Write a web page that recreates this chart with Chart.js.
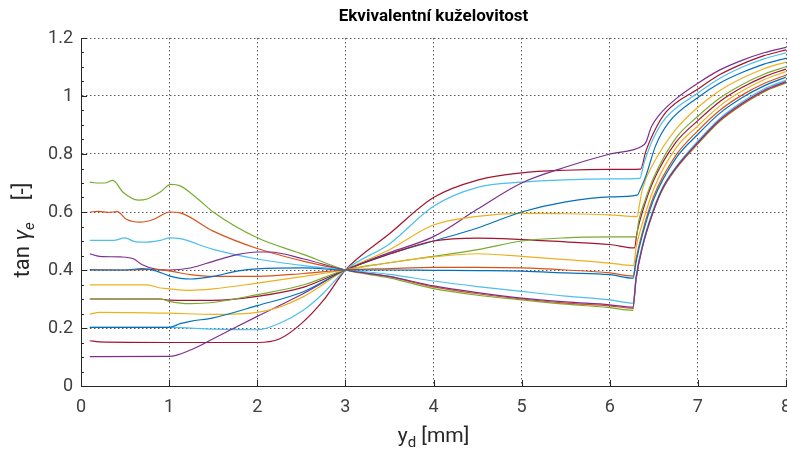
<!DOCTYPE html>
<html>
<head>
<meta charset="utf-8">
<script src="https://cdn.jsdelivr.net/npm/chart.js@4.4.1/dist/chart.umd.min.js"></script>
<style>
  html, body { margin: 0; padding: 0; background: #fff; }
  #wrap { width: 787px; height: 450px; }
</style>
</head>
<body>
<div id="wrap"><canvas id="chart" width="787" height="450"></canvas></div>
<script>
// tick labels
const xTicks = [0, 1, 2, 3, 4, 5, 6, 7, 8];
const yTicks = [0, 0.2, 0.4, 0.6, 0.8, 1, 1.2];

// series (x = y_d [mm], y = tan gamma_e)
const s01x = [0.1, 0.5, 0.7, 0.85, 1, 1.24, 1.5, 1.77, 2, 2.53, 3, 3.5, 4, 4.5, 5, 5.5, 6, 6.265, 6.3, 6.37, 6.5, 6.75, 7, 7.25, 7.5, 7.75, 8];
const s01y = [0.4, 0.4, 0.405, 0.397, 0.38, 0.369, 0.378, 0.396, 0.404, 0.407, 0.4, 0.4, 0.399, 0.398, 0.396, 0.39, 0.384, 0.372, 0.43, 0.52, 0.645, 0.785, 0.868, 0.941, 0.994, 1.035, 1.065];

const s02x = [0.1, 0.5, 0.8, 1, 1.24, 1.5, 2, 2.53, 3, 3.5, 4, 4.5, 5, 5.5, 6, 6.265, 6.3, 6.37, 6.5, 6.75, 7, 7.25, 7.5, 7.75, 8];
const s02y = [0.401, 0.4, 0.402, 0.397, 0.384, 0.378, 0.378, 0.388, 0.4, 0.405, 0.409, 0.409, 0.407, 0.4, 0.39, 0.379, 0.44, 0.53, 0.655, 0.795, 0.88, 0.951, 1.003, 1.043, 1.072];

const s03x = [0.1, 0.75, 0.9, 1, 1.24, 1.5, 2, 2.53, 3, 3.5, 4, 4.5, 5, 5.5, 6, 6.27, 6.3, 6.37, 6.5, 6.75, 7, 7.25, 7.5, 7.75, 8];
const s03y = [0.349, 0.349, 0.338, 0.335, 0.33, 0.335, 0.355, 0.378, 0.4, 0.425, 0.445, 0.456, 0.447, 0.436, 0.424, 0.415, 0.48, 0.56, 0.68, 0.82, 0.897, 0.966, 1.017, 1.056, 1.084];

const s04x = [0.1, 0.21, 0.45, 0.6, 0.69, 0.86, 1, 1.24, 1.5, 1.77, 2, 2.14, 2.53, 3, 3.5, 4, 4.5, 5, 5.5, 6, 6.262, 6.3, 6.37, 6.49, 6.6, 6.75, 7, 7.25, 7.5, 7.75, 8];
const s04y = [0.456, 0.447, 0.445, 0.438, 0.419, 0.402, 0.4, 0.407, 0.43, 0.453, 0.462, 0.462, 0.438, 0.4, 0.378, 0.345, 0.322, 0.303, 0.29, 0.28, 0.272, 0.375, 0.48, 0.6, 0.682, 0.752, 0.84, 0.918, 0.974, 1.019, 1.05];

const s05x = [0.1, 0.9, 1, 1.125, 1.24, 1.5, 2, 2.53, 3, 3.5, 4, 4.5, 5, 5.5, 6, 6.3, 6.33, 6.4, 6.5, 6.75, 7, 7.25, 7.5, 7.75, 8];
const s05y = [0.3, 0.3, 0.292, 0.286, 0.284, 0.288, 0.315, 0.349, 0.4, 0.425, 0.447, 0.47, 0.5, 0.511, 0.514, 0.514, 0.57, 0.64, 0.72, 0.855, 0.93, 0.993, 1.039, 1.075, 1.101];

const s06x = [0.1, 0.37, 0.5, 0.6, 0.75, 0.9, 1.01, 1.125, 1.5, 2, 2.53, 3, 3.5, 4, 4.5, 5, 5.5, 6, 6.265, 6.3, 6.37, 6.49, 6.6, 6.75, 7, 7.25, 7.5, 7.75, 8];
const s06y = [0.502, 0.502, 0.511, 0.499, 0.496, 0.502, 0.511, 0.508, 0.471, 0.438, 0.415, 0.4, 0.385, 0.362, 0.343, 0.326, 0.31, 0.297, 0.286, 0.38, 0.485, 0.605, 0.685, 0.755, 0.845, 0.923, 0.979, 1.024, 1.055];

const s07x = [0.1, 0.9, 1, 1.5, 2, 2.53, 3, 3.5, 4, 4.5, 5, 5.5, 6, 6.28, 6.31, 6.37, 6.5, 6.75, 7, 7.25, 7.5, 7.75, 8];
const s07y = [0.3, 0.3, 0.296, 0.295, 0.309, 0.341, 0.4, 0.455, 0.5, 0.51, 0.505, 0.497, 0.488, 0.476, 0.53, 0.6, 0.71, 0.84, 0.915, 0.981, 1.029, 1.066, 1.093];

const s08x = [0.1, 1, 1.125, 1.24, 1.5, 2, 2.53, 3, 3.5, 4, 4.5, 5, 5.5, 6, 6.31, 6.35, 6.41, 6.52, 6.67, 7, 7.25, 7.5, 7.75, 8];
const s08y = [0.202, 0.202, 0.215, 0.223, 0.235, 0.277, 0.326, 0.4, 0.455, 0.5, 0.545, 0.6, 0.635, 0.652, 0.658, 0.68, 0.724, 0.828, 0.909, 0.995, 1.045, 1.081, 1.11, 1.13];

const s09x = [0.1, 0.2, 0.3, 0.41, 0.52, 0.67, 0.82, 1.01, 1.125, 1.5, 2, 2.53, 3, 3.5, 4, 4.5, 5, 5.5, 6, 6.262, 6.3, 6.37, 6.49, 6.6, 6.75, 7, 7.25, 7.5, 7.75, 8];
const s09y = [0.6, 0.602, 0.599, 0.601, 0.574, 0.565, 0.574, 0.6, 0.597, 0.534, 0.474, 0.43, 0.4, 0.377, 0.342, 0.318, 0.3, 0.286, 0.276, 0.268, 0.372, 0.479, 0.598, 0.68, 0.75, 0.837, 0.915, 0.971, 1.016, 1.047];

const s10x = [0.1, 0.21, 1, 1.5, 2, 2.25, 2.53, 3, 3.5, 4, 4.5, 5, 5.5, 6, 6.31, 6.34, 6.37, 6.5, 6.75, 7, 7.25, 7.5, 7.75, 8];
const s10y = [0.248, 0.254, 0.251, 0.247, 0.254, 0.272, 0.309, 0.4, 0.47, 0.555, 0.585, 0.595, 0.594, 0.59, 0.584, 0.63, 0.678, 0.77, 0.885, 0.961, 1.019, 1.061, 1.094, 1.117];

const s11x = [0.1, 1, 1.25, 1.5, 2, 2.53, 3, 3.5, 4, 4.5, 5, 5.5, 6, 6.36, 6.41, 6.47, 6.56, 6.75, 7, 7.25, 7.5, 7.75, 8];
const s11y = [0.101, 0.102, 0.125, 0.163, 0.24, 0.32, 0.4, 0.46, 0.515, 0.61, 0.7, 0.755, 0.8, 0.826, 0.84, 0.892, 0.934, 0.99, 1.044, 1.09, 1.123, 1.149, 1.168];

const s12x = [0.1, 0.2, 0.27, 0.36, 0.48, 0.65, 0.75, 0.9, 1.02, 1.125, 1.33, 1.5, 2, 2.53, 3, 3.5, 4, 4.5, 5, 5.5, 6, 6.26, 6.3, 6.37, 6.49, 6.6, 6.75, 7, 7.25, 7.5, 7.75, 8];
const s12y = [0.703, 0.7, 0.7, 0.709, 0.667, 0.641, 0.645, 0.669, 0.695, 0.69, 0.644, 0.6, 0.511, 0.453, 0.4, 0.373, 0.336, 0.313, 0.297, 0.282, 0.27, 0.261, 0.37, 0.477, 0.597, 0.678, 0.748, 0.835, 0.913, 0.969, 1.014, 1.045];

const s13x = [0.1, 1, 1.5, 2, 2.26, 2.53, 2.75, 3, 3.5, 4, 4.5, 5, 5.5, 6, 6.34, 6.39, 6.49, 6.64, 7, 7.25, 7.5, 7.75, 8];
const s13y = [0.202, 0.202, 0.196, 0.194, 0.217, 0.263, 0.32, 0.4, 0.49, 0.62, 0.685, 0.703, 0.711, 0.714, 0.716, 0.77, 0.851, 0.926, 1.01, 1.061, 1.099, 1.128, 1.149];

const s14x = [0.1, 0.21, 1, 2, 2.25, 2.5, 2.75, 3, 3.5, 4, 4.5, 5, 5.5, 6, 6.35, 6.41, 6.5, 6.64, 7, 7.25, 7.5, 7.75, 8];
const s14y = [0.156, 0.152, 0.15, 0.15, 0.162, 0.215, 0.295, 0.4, 0.525, 0.65, 0.71, 0.735, 0.744, 0.747, 0.748, 0.81, 0.875, 0.945, 1.024, 1.074, 1.11, 1.139, 1.159];

const allX = [s01x, s02x, s03x, s04x, s05x, s06x, s07x, s08x, s09x, s10x, s11x, s12x, s13x, s14x];
const allY = [s01y, s02y, s03y, s04y, s05y, s06y, s07y, s08y, s09y, s10y, s11y, s12y, s13y, s14y];

// matlab default line colours
const colors = ['#0072BD', '#D95319', '#EDB120', '#7E2F8E', '#77AC30', '#4DBEEE', '#A2142F'];

const FONT = 'Roboto';
const AXIS_COLOR = '#262626';

const datasets = allX.map((xs, i) => ({
    data: xs.map((x, j) => ({ x: x, y: allY[i][j] })),
    borderColor: colors[i % colors.length],
    borderWidth: 1.2,
    pointRadius: 0,
    fill: false,
    cubicInterpolationMode: 'monotone'
}));

// title, axis labels with subscripts, x tick labels and inward ticks
const decor = {
    id: 'decor',
    afterDraw(chart) {
        const { ctx, chartArea: a, scales: { x, y } } = chart;
        ctx.save();

        // ticks pointing inside
        ctx.strokeStyle = AXIS_COLOR;
        ctx.lineWidth = 1;
        ctx.beginPath();
        for (let k = 0; k <= 24; k++) {
            const py = Math.round(y.getPixelForValue(k * 0.05)) + 0.5;
            const len = k % 4 === 0 ? 6 : 3;
            ctx.moveTo(a.left, py);
            ctx.lineTo(a.left + len, py);
        }
        xTicks.forEach(v => {
            const px = Math.round(x.getPixelForValue(v)) + 0.5;
            ctx.moveTo(px, a.bottom);
            ctx.lineTo(px, a.bottom - 6);
        });
        ctx.stroke();

        // x tick labels (the last one is cut by the canvas edge, like the original)
        ctx.fillStyle = '#404040';
        ctx.font = '18px ' + FONT;
        ctx.textAlign = 'center';
        ctx.textBaseline = 'top';
        xTicks.forEach(v => ctx.fillText(String(v), x.getPixelForValue(v), a.bottom + 12));

        // title
        ctx.fillStyle = '#000';
        ctx.font = 'bold 17px ' + FONT;
        ctx.textAlign = 'center';
        ctx.textBaseline = 'middle';
        ctx.fillText('Ekvivalentní kuželovitost', (a.left + a.right) / 2, 17);

        // x label: y_d [mm]
        ctx.fillStyle = AXIS_COLOR;
        ctx.textAlign = 'left';
        ctx.textBaseline = 'alphabetic';
        const big = '21px ' + FONT, small = '15px ' + FONT;
        ctx.font = big;
        const w1 = ctx.measureText('y').width;
        const w3 = ctx.measureText(' [mm]').width;
        ctx.font = small;
        const w2 = ctx.measureText('d').width;
        let sx = (a.left + a.right) / 2 - (w1 + w2 + w3) / 2;
        const by = 442;
        ctx.font = big; ctx.fillText('y', sx, by); sx += w1;
        ctx.font = small; ctx.fillText('d', sx, by + 5); sx += w2;
        ctx.font = big; ctx.fillText(' [mm]', sx, by);

        // y label: tan gamma_e [-]
        ctx.translate(29, 230);
        ctx.rotate(-Math.PI / 2);
        const lbl = '22px ' + FONT, g = 'italic 22px ' + FONT, sub = 'italic 15px ' + FONT;
        ctx.font = lbl; const t1 = ctx.measureText('tan ').width;
        ctx.font = g; const t2 = ctx.measureText('γ').width;
        ctx.font = sub; const t3 = ctx.measureText('e').width;
        ctx.font = lbl; const t4 = ctx.measureText('    [-]').width;
        let tx = -(t1 + t2 + t3 + t4) / 2;
        ctx.font = lbl; ctx.fillText('tan ', tx, 0); tx += t1;
        ctx.font = g; ctx.fillText('γ', tx, 0); tx += t2;
        ctx.font = sub; ctx.fillText('e', tx, 5); tx += t3;
        ctx.font = lbl; ctx.fillText('    [-]', tx, 0);

        ctx.restore();
    }
};

new Chart(document.getElementById('chart'), {
    type: 'line',
    data: { datasets: datasets },
    options: {
        responsive: false,
        animation: false,
        devicePixelRatio: 1,
        layout: { autoPadding: false, padding: { top: 38, right: 1, left: 0, bottom: 0 } },
        plugins: { legend: { display: false }, tooltip: { enabled: false } },
        scales: {
            x: {
                type: 'linear',
                min: 0,
                max: 8,
                afterFit: s => { s.height = 64; s.paddingLeft = 0; s.paddingRight = 0; },
                afterBuildTicks: s => { s.ticks = xTicks.map(v => ({ value: v })); },
                ticks: { display: false },
                grid: { color: '#5a5a5a', lineWidth: 1, drawTicks: false },
                border: { display: true, color: AXIS_COLOR, width: 1, dash: [1.5, 2.5] }
            },
            y: {
                type: 'linear',
                min: 0,
                max: 1.2,
                afterFit: s => { s.width = 81; s.paddingTop = 0; s.paddingBottom = 0; },
                afterBuildTicks: s => { s.ticks = yTicks.map(v => ({ value: v })); },
                ticks: {
                    color: '#404040',
                    font: { family: FONT, size: 18 },
                    padding: 8,
                    callback: v => String(+v.toFixed(1))
                },
                grid: { color: '#5a5a5a', lineWidth: 1, drawTicks: false },
                border: { display: true, color: AXIS_COLOR, width: 1, dash: [1.5, 2.5] }
            }
        }
    },
    plugins: [decor]
});
</script>
</body>
</html>
